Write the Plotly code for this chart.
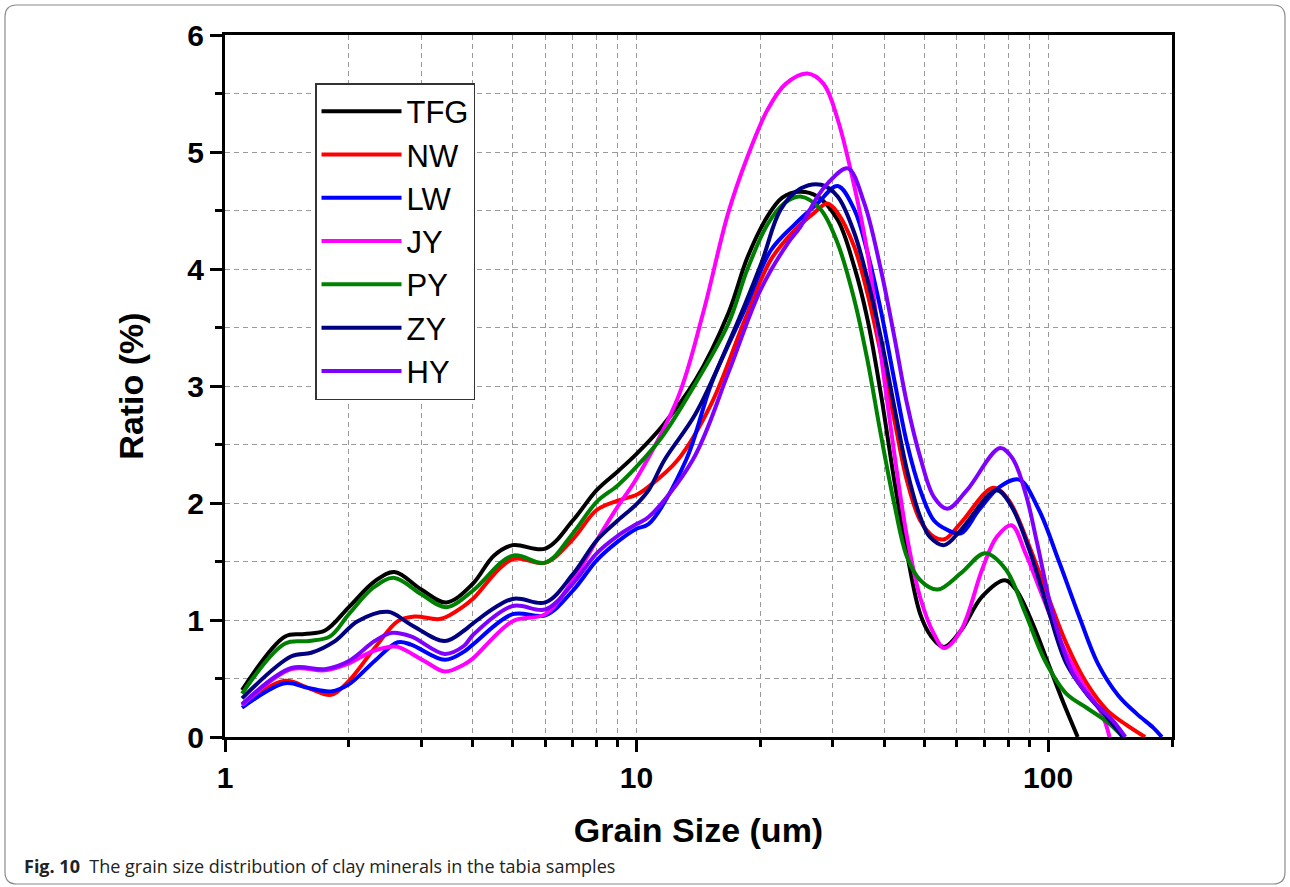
import plotly.graph_objects as go

# ---- data ----
tfg_x = [1.1, 1.4, 1.56, 1.75, 2.0, 2.31, 2.58, 3.0, 3.45, 4.0, 4.5, 5.0, 6.0, 7.0, 8.0, 9.0, 10, 11.5, 13.9, 16.7, 18.6, 20.8, 22.6, 24.8, 27.5, 30.8, 33.8, 36.4, 39.2, 42.3, 45.4, 48.9, 52, 55.9, 61.4, 69.1, 78.5, 83.5, 91.7, 100, 109, 118]
tfg_y = [0.40, 0.86, 0.88, 0.91, 1.11, 1.33, 1.41, 1.26, 1.15, 1.31, 1.55, 1.64, 1.61, 1.85, 2.11, 2.27, 2.42, 2.65, 3.05, 3.62, 4.10, 4.45, 4.61, 4.66, 4.62, 4.42, 4.02, 3.57, 2.94, 2.19, 1.57, 1.05, 0.86, 0.77, 0.91, 1.20, 1.34, 1.26, 0.97, 0.63, 0.29, 0.0]

nw_x = [1.1, 1.4, 1.59, 1.81, 2.0, 2.31, 2.63, 2.89, 3.35, 3.81, 4.0, 5.0, 6.0, 7.0, 8.0, 9.0, 10, 10.7, 12.6, 15.2, 18.3, 21.2, 24.2, 27, 29.1, 30.8, 33.8, 36.4, 39.2, 42.3, 45.4, 48.9, 52.8, 56, 61.4, 73.5, 80, 90, 100, 110.7, 124, 139, 154, 172]
nw_y = [0.28, 0.48, 0.42, 0.36, 0.48, 0.76, 0.99, 1.03, 1.01, 1.12, 1.18, 1.52, 1.49, 1.69, 1.94, 2.02, 2.07, 2.14, 2.37, 2.85, 3.56, 4.08, 4.33, 4.48, 4.56, 4.48, 4.19, 3.79, 3.28, 2.71, 2.19, 1.85, 1.71, 1.69, 1.83, 2.13, 2.03, 1.63, 1.20, 0.80, 0.46, 0.23, 0.11, 0.0]

lw_x = [1.1, 1.4, 1.59, 1.81, 2.0, 2.31, 2.63, 2.83, 3.42, 3.81, 4.0, 5.0, 6.0, 7.0, 8.0, 9.0, 10, 10.7, 13.2, 15.2, 18.3, 21.2, 24.2, 27.5, 30.8, 33.8, 36.4, 39.2, 42.3, 45.4, 48.9, 52.8, 56.9, 61.4, 67.9, 76.4, 85.1, 95, 106, 119, 132, 147.7, 164, 180, 189]
lw_y = [0.25, 0.46, 0.42, 0.39, 0.45, 0.65, 0.81, 0.79, 0.66, 0.73, 0.79, 1.05, 1.04, 1.25, 1.51, 1.67, 1.78, 1.82, 2.37, 3.02, 3.65, 4.16, 4.38, 4.56, 4.71, 4.51, 4.14, 3.65, 3.05, 2.51, 2.11, 1.85, 1.77, 1.74, 1.94, 2.14, 2.20, 1.94, 1.51, 1.03, 0.63, 0.36, 0.20, 0.08, 0.0]

jy_x = [1.1, 1.45, 1.75, 2.0, 2.27, 2.5, 2.63, 3.05, 3.42, 3.81, 4.0, 5.0, 6.0, 7.0, 8.0, 9.0, 10, 12.6, 14.5, 16.7, 18.6, 20.8, 23, 26, 28.5, 30.8, 33.8, 36.4, 39.2, 42.3, 45.4, 48.9, 52.8, 55.9, 61.4, 69.1, 75, 81.5, 88.1, 97, 107.8, 121, 135, 141]
jy_y = [0.27, 0.58, 0.57, 0.63, 0.73, 0.77, 0.77, 0.65, 0.56, 0.62, 0.67, 0.99, 1.05, 1.34, 1.68, 1.97, 2.21, 2.90, 3.62, 4.48, 4.96, 5.36, 5.58, 5.67, 5.58, 5.28, 4.71, 4.14, 3.28, 2.42, 1.71, 1.19, 0.88, 0.76, 0.91, 1.43, 1.71, 1.81, 1.57, 1.20, 0.80, 0.46, 0.20, 0.0]

py_x = [1.1, 1.4, 1.6, 1.8, 2.0, 2.3, 2.58, 3.0, 3.45, 4.0, 5.0, 6.0, 7.0, 8.0, 9.0, 10, 11.5, 13.9, 16.7, 18.6, 20.8, 22.8, 25, 28, 30.8, 33.8, 36.4, 39.2, 42.3, 45.4, 48.9, 53.9, 61.4, 70.3, 79, 88, 98, 110.7, 124, 139, 152]
py_y = [0.37, 0.80, 0.82, 0.86, 1.05, 1.28, 1.36, 1.22, 1.11, 1.25, 1.55, 1.49, 1.74, 2.01, 2.15, 2.31, 2.56, 3.02, 3.53, 4.00, 4.38, 4.56, 4.62, 4.51, 4.22, 3.74, 3.22, 2.59, 1.99, 1.54, 1.34, 1.26, 1.40, 1.57, 1.43, 1.06, 0.66, 0.37, 0.25, 0.13, 0.0]

zy_x = [1.1, 1.45, 1.62, 1.85, 2.1, 2.49, 2.83, 3.42, 3.81, 4.0, 5.0, 6.0, 7.0, 8.0, 9.0, 10, 10.7, 11.7, 13.9, 16.7, 20.1, 22.4, 25.1, 28.1, 30.8, 33.8, 36.4, 39.2, 42.3, 45.4, 48.9, 51.6, 55.9, 61.4, 75, 81.5, 90, 100, 110.7, 124, 139, 152]
zy_y = [0.33, 0.69, 0.72, 0.82, 0.99, 1.07, 0.96, 0.82, 0.91, 0.97, 1.18, 1.15, 1.39, 1.68, 1.85, 1.99, 2.11, 2.37, 2.76, 3.36, 4.05, 4.51, 4.69, 4.72, 4.62, 4.31, 3.91, 3.42, 2.82, 2.28, 1.88, 1.71, 1.64, 1.77, 2.11, 1.97, 1.60, 1.09, 0.63, 0.37, 0.17, 0.0]

hy_x = [1.1, 1.45, 1.75, 2.0, 2.31, 2.54, 2.83, 3.42, 3.81, 4.0, 5.0, 6.0, 7.0, 8.0, 9.0, 10, 10.7, 13.7, 16.7, 20, 23.3, 25, 27.2, 29.1, 32.6, 35.7, 39.2, 42.3, 45.4, 48.9, 52.8, 56.9, 63.5, 76.4, 82, 88.5, 94, 103, 115, 128.6, 143.6, 154]
hy_y = [0.28, 0.59, 0.58, 0.65, 0.82, 0.89, 0.86, 0.71, 0.78, 0.87, 1.12, 1.09, 1.31, 1.57, 1.72, 1.82, 1.88, 2.37, 3.11, 3.82, 4.22, 4.36, 4.59, 4.73, 4.86, 4.57, 4.00, 3.42, 2.85, 2.39, 2.05, 1.95, 2.11, 2.47, 2.38, 2.06, 1.66, 1.03, 0.54, 0.31, 0.14, 0.0]

names = ["TFG", "NW", "LW", "JY", "PY", "ZY", "HY"]
colors = ["#000000", "#FF0000", "#0000FF", "#FF00FF", "#008000", "#000080", "#8000FF"]
series_x = [tfg_x, nw_x, lw_x, jy_x, py_x, zy_x, hy_x]
series_y = [tfg_y, nw_y, lw_y, jy_y, py_y, zy_y, hy_y]

x_ticks = [1, 10, 100]
y_ticks = [0, 1, 2, 3, 4, 5, 6]

# ---- layout geometry (pixels) ----
W, H = 1290, 887
L, R, T, B = 225, 1172, 35, 737

def px(xp):
    return (xp - L) / (R - L)

def py(yp):
    return (B - yp) / (B - T)

fig = go.Figure()
for n, c, xs, ys in zip(names, colors, series_x, series_y):
    fig.add_trace(go.Scatter(x=xs, y=ys, name=n, mode="lines",
                             line=dict(color=c, width=4, shape="spline", smoothing=1.0)))

grid = dict(gridcolor="#9a9a9a", griddash="5px,4px", gridwidth=1)
FONT = "Liberation Sans, Arial, sans-serif"

fig.update_layout(
    width=W, height=H,
    margin=dict(l=L, r=W - R, t=T, b=H - B),
    paper_bgcolor="white", plot_bgcolor="white",
    font=dict(family=FONT, color="black"),
    showlegend=True,
    legend=dict(x=px(315), y=py(83), xanchor="left", yanchor="top",
                bordercolor="#333333", borderwidth=1.5, bgcolor="white",
                font=dict(size=31, family=FONT),
                itemwidth=80, tracegroupgap=0),
    xaxis=dict(type="log", range=[0, 2.301],
               tickvals=x_ticks, ticktext=[str(v) for v in x_ticks],
               ticks="outside", ticklen=12, tickwidth=3, tickcolor="black",
               showline=True, linewidth=3, linecolor="black", mirror=True,
               showgrid=True, **grid,
               tickfont=dict(size=30, family=FONT, weight="bold"),
               title=dict(text="<b>Grain Size (um)</b>", font=dict(size=34), standoff=26),
               minor=dict(dtick="D1", ticks="outside", ticklen=7, tickwidth=3, tickcolor="black",
                          showgrid=True, **grid),
               zeroline=False),
    yaxis=dict(range=[0, 6], tickvals=y_ticks,
               ticks="outside", ticklen=12, tickwidth=3, tickcolor="black",
               showline=True, linewidth=3, linecolor="black", mirror=True,
               showgrid=True, **grid,
               tickfont=dict(size=30, family=FONT, weight="bold"),
               title=dict(text="<b>Ratio (%)</b>", font=dict(size=34), standoff=34),
               minor=dict(dtick=0.5, ticks="outside", ticklen=7, tickwidth=3, tickcolor="black",
                          showgrid=True, **grid),
               zeroline=False),
)

# figure caption
fig.add_annotation(x=px(22), y=py(866), xref="paper", yref="paper",
                   xanchor="left", yanchor="middle", showarrow=False,
                   text="<b>Fig. 10</b>  The grain size distribution of clay minerals in the tabia samples",
                   font=dict(size=18, family="Open Sans, Noto Sans, sans-serif", color="#222222"))

# rounded outer frame
x0, x1, y0, y1, r = 5, 1285, 5, 884, 12
path = (f"M {px(x0 + r)},{py(y0)} L {px(x1 - r)},{py(y0)} Q {px(x1)},{py(y0)} {px(x1)},{py(y0 + r)} "
        f"L {px(x1)},{py(y1 - r)} Q {px(x1)},{py(y1)} {px(x1 - r)},{py(y1)} "
        f"L {px(x0 + r)},{py(y1)} Q {px(x0)},{py(y1)} {px(x0)},{py(y1 - r)} "
        f"L {px(x0)},{py(y0 + r)} Q {px(x0)},{py(y0)} {px(x0 + r)},{py(y0)} Z")
fig.add_shape(type="path", path=path, xref="paper", yref="paper",
              line=dict(color="#8a8a8a", width=1.2), layer="below")

fig.write_html("out.html")
